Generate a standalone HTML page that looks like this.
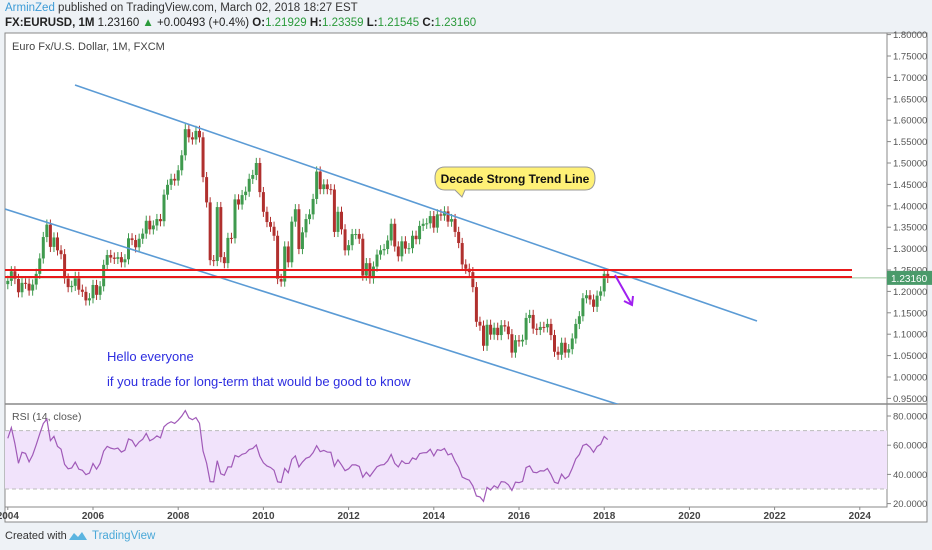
<!DOCTYPE html>
<html><head><meta charset="utf-8"><style>
body{margin:0;width:932px;height:550px;background:#eef2f6;font-family:"Liberation Sans",sans-serif;overflow:hidden;position:relative}
.t{position:absolute;white-space:nowrap}
</style></head><body>
<div class="t" style="left:5px;top:2px;font-size:11.5px;color:#333"><span style="color:#3d9bd6">ArminZed</span> published on TradingView.com, March 02, 2018 18:27 EST</div>
<div class="t" style="left:5px;top:17px;font-size:11.5px;color:#222"><b>FX:EURUSD, 1M</b> 1.23160 <span style="color:#2a9a3a">▲</span> +0.00493 (+0.4%) <b>O:</b><span style="color:#2a9a3a">1.21929</span> <b>H:</b><span style="color:#2a9a3a">1.23359</span> <b>L:</b><span style="color:#2a9a3a">1.21545</span> <b>C:</b><span style="color:#2a9a3a">1.23160</span></div>
<svg id="c" width="932" height="550" style="position:absolute;left:0;top:0"></svg>
<div class="t" style="left:5px;top:530px;font-size:11px;color:#333">Created with</div>
<div class="t" style="left:92px;top:530px;font-size:11.5px;color:#4aa8d8">TradingView</div>
<svg style="position:absolute;left:68px;top:530px" width="20" height="12"><path d="M1 10 L6 3 L10 7 L14 2 L19 10 Z" fill="#5ab4e0"/></svg>
<script>
const closes=[1.2246,1.2470,1.2290,1.1980,1.2200,1.2180,1.2020,1.2160,1.2410,1.2770,1.3270,1.3560,
1.3040,1.3260,1.2960,1.2870,1.2300,1.2100,1.2130,1.2340,1.2040,1.1990,1.1790,1.1840,
1.2150,1.1920,1.2120,1.2620,1.2850,1.2790,1.2760,1.2800,1.2680,1.2750,1.3240,1.3200,
1.3030,1.3230,1.3350,1.3650,1.3450,1.3540,1.3690,1.3640,1.4260,1.4490,1.4630,1.4590,
1.4830,1.5180,1.5790,1.5600,1.5550,1.5750,1.5600,1.4670,1.4080,1.2730,1.2710,1.3970,
1.2800,1.2660,1.3250,1.3240,1.4150,1.4030,1.4250,1.4330,1.4630,1.4720,1.5000,1.4320,
1.3860,1.3620,1.3510,1.3300,1.2290,1.2230,1.3050,1.2680,1.3630,1.3920,1.2990,1.3380,
1.3690,1.3800,1.4160,1.4800,1.4390,1.4500,1.4390,1.4380,1.3390,1.3860,1.3450,1.2960,
1.3080,1.3340,1.3340,1.3230,1.2370,1.2660,1.2300,1.2580,1.2860,1.2960,1.2990,1.3190,
1.3580,1.3050,1.2820,1.3170,1.3000,1.3010,1.3300,1.3220,1.3530,1.3580,1.3590,1.3760,
1.3490,1.3800,1.3770,1.3870,1.3630,1.3690,1.3390,1.3130,1.2630,1.2530,1.2450,1.2100,
1.1290,1.1200,1.0730,1.1220,1.0990,1.1150,1.0980,1.1210,1.1180,1.1000,1.0570,1.0860,
1.0830,1.0870,1.1380,1.1450,1.1130,1.1100,1.1170,1.1160,1.1240,1.0980,1.0590,1.0520,
1.0800,1.0570,1.0650,1.0900,1.1240,1.1420,1.1840,1.1910,1.1810,1.1640,1.1900,1.2000,
1.2410,1.2316];
const startOpen=1.2170;
const startYear=2004;
const priceTicks=[1.80,1.75,1.70,1.65,1.60,1.55,1.50,1.45,1.40,1.35,1.30,1.25,1.20,1.15,1.10,1.05,1.00,0.95];
const rsiTicks=[80,60,40,20];
const yearTicks=[2004,2006,2008,2010,2012,2014,2016,2018,2020,2022,2024];
const lastPrice=1.2316;

const NS="http://www.w3.org/2000/svg",svg=document.getElementById('c');
function el(t,a,p){const e=document.createElementNS(NS,t);for(const k in a)e.setAttribute(k,a[k]);(p||svg).appendChild(e);return e;}
const X=y=>93+(y-2006)*42.6;
const Y=p=>56+(1.75-p)*428;
const RY=r=>416+(80-r)*1.46;

// panels
let fr=el('rect',{x:5,y:33,width:922,height:489,fill:'#fff',stroke:'#888'});

let bg=el('rect',{x:5,y:33,width:882,height:474,fill:'#fff',stroke:'#888'});

let sep=el('line',{x1:5,y1:404,x2:927,y2:404,stroke:'#888','stroke-width':1.5});


const clipD=el('clipPath',{id:'mc'});el('rect',{x:5,y:33,width:882,height:371},clipD);
const main=el('g',{'clip-path':'url(#mc)'});


// price ticks
priceTicks.forEach(p=>{const y=Y(p);
 if(y>33&&y<405){
 const tk=el('line',{x1:887,y1:y,x2:891,y2:y,stroke:'#888'});
 
 const t=el('text',{x:893,y:y+3.5,'font-size':9.5,fill:'#555'});t.textContent=p.toFixed(5);
 }});
rsiTicks.forEach(r=>{const y=RY(r);
 el('line',{x1:887,y1:y,x2:891,y2:y,stroke:'#888'});
 const t=el('text',{x:893,y:y+3.5,'font-size':9.5,fill:'#555'});t.textContent=r.toFixed(4);
 });
yearTicks.forEach(yr=>{const x=X(yr);
 el('line',{x1:x,y1:507,x2:x,y2:510,stroke:'#888'});
 const t=el('text',{x:x,y:519,'font-size':10,'font-weight':'bold',fill:'#444','text-anchor':'middle'});t.textContent=yr;
 });

// candles
let prev=startOpen;
closes.forEach((c,i)=>{const o=prev;prev=c;const x=X(startYear+i/12);
 const up=c>=o,col=up?'#3f9a4e':'#b0302e';
 const hi=Math.max(o,c)+0.012,lo=Math.min(o,c)-0.012;
 const g=el('g',{},main);
 
 el('line',{x1:x,y1:Y(hi),x2:x,y2:Y(lo),stroke:col},g);
 el('rect',{x:x-1.5,y:Y(Math.max(o,c)),width:3,height:Math.max(1,Math.abs(Y(o)-Y(c))),fill:col},g);});

// drawings
let l1=el('line',{x1:75,y1:85,x2:757,y2:321,stroke:'#5b9bd5','stroke-width':1.6},main);

let l2=el('line',{x1:5,y1:209,x2:620,y2:405,stroke:'#5b9bd5','stroke-width':1.6},main);

let cp=el('line',{x1:5,y1:Y(lastPrice),x2:887,y2:Y(lastPrice),stroke:'#9cc59c','stroke-width':1},main);

[270,277].forEach(y=>{const r=el('line',{x1:5,y1:y,x2:852,y2:y,stroke:'#e8191a','stroke-width':2},main);
 });
let ar=el('path',{d:'M615 275 L632 305 M624 301 L632 305 L633 296',stroke:'#a020f0','stroke-width':2,fill:'none'},main);

let co=el('path',{d:'M445 167 H585 Q595 167 595 178 Q595 190 585 190 H465 L462 197 L455 190 H445 Q435 190 435 178 Q435 167 445 167 Z',fill:'#fff176',stroke:'#999'},main);

let ct=el('text',{x:515,y:183,'font-size':12,'font-weight':'bold','text-anchor':'middle',fill:'#111'},main);ct.textContent='Decade Strong Trend Line';

let h1=el('text',{x:107,y:361,'font-size':13,fill:'#2d2de0'},main);h1.textContent='Hello everyone';

let h2=el('text',{x:107,y:386,'font-size':13,fill:'#2d2de0'},main);h2.textContent='if you trade for long-term that would be good to know';

let tt=el('text',{x:12,y:50,'font-size':11,fill:'#444'});tt.textContent='Euro Fx/U.S. Dollar, 1M, FXCM';


// price label
let pl=el('rect',{x:887,y:Y(lastPrice)-7,width:45,height:14,fill:'#4a9a6a'});

let plt=el('text',{x:891,y:Y(lastPrice)+4,'font-size':10,fill:'#fff'});plt.textContent=lastPrice.toFixed(5);

// RSI
const rc=el('clipPath',{id:'rc'});el('rect',{x:5,y:405,width:882,height:102},rc);
const rg=el('g',{'clip-path':'url(#rc)'});

let band=el('rect',{x:5,y:RY(70),width:882,height:RY(30)-RY(70),fill:'#f1e3fb'},rg);

[70,30].forEach(r=>el('line',{x1:5,y1:RY(r),x2:887,y2:RY(r),stroke:'#bbb','stroke-dasharray':'4 3'},rg));
let rl=el('text',{x:12,y:420,'font-size':10.5,fill:'#555'},rg);rl.textContent='RSI (14, close)';

const all=[startOpen].concat(closes);let ag=0.004,al=0.0025,pts=[];
for(let i=1;i<all.length;i++){const d=all[i]-all[i-1];ag=(ag*13+Math.max(d,0))/14;al=(al*13+Math.max(-d,0))/14;
 const r=100-100/(1+ag/al);pts.push([X(startYear+(i-1)/12),RY(r)]);}
let rp=el('polyline',{points:pts.map(p=>p.join(',')).join(' '),fill:'none',stroke:'#a05ab8','stroke-width':1.2},rg);

</script>
</body></html>
